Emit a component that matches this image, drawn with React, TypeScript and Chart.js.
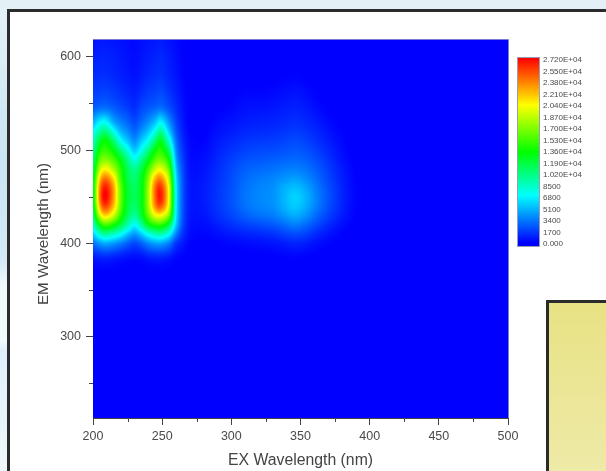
import React, { useEffect, useRef } from "react";
import { Chart, registerables } from "chart.js";

Chart.register(...registerables);

const xMajorTicks = [200, 250, 300, 350, 400, 450, 500];
const xMinorTicks = [225, 275, 325, 375, 425, 475];
const yMajorTicks = [300, 400, 500, 600];
const yMinorTicks = [250, 350, 450, 550];
const legendLabels = ["2.720E+04","2.550E+04","2.380E+04","2.210E+04","2.040E+04","1.870E+04","1.700E+04","1.530E+04","1.360E+04","1.190E+04","1.020E+04","8500","6800","5100","3400","1700","0.000"];
const yTitle = "EM Wavelength (nm)";

const emGrid = [213,340,370,385,400,410,420,430,440,450,460,470,480,490,500,510,520,530,545,560,580,600,619];
const exGrid = [200,205,209,215,220,225,230,235,240,245,249,255,260,265,270,280,290,300,310,320,330,338,346,354,362,370,380,390,400,500];

const ex200 = [150,250,450,1200,3500,6000,8800,11000,12500,13000,13000,12500,11800,11000,10200,9000,7300,5400,3000,2200,1600,1300,1000];
const ex205 = [150,250,480,1400,4500,8700,13500,19000,22500,24000,23500,21500,18500,16000,14000,12300,9600,7000,3400,2300,1700,1400,1100];
const ex209 = [150,250,500,1500,5000,9800,15500,21500,25500,27200,26500,24000,20400,17000,15000,13600,10500,7300,3500,2400,1700,1400,1100];
const ex215 = [150,250,480,1300,4500,8800,14000,19000,22000,23000,22800,21000,18000,15500,13200,10800,7700,5000,3000,2100,1500,1300,1000];
const ex220 = [140,240,430,1100,3800,7600,11800,14800,16200,16500,16300,15300,14500,13000,10500,7600,5400,3900,2500,1800,1300,1100,900];
const ex225 = [130,230,400,900,3000,5800,9400,11500,12300,12500,12400,12000,11500,10300,8000,5800,4300,3200,2100,1500,1100,950,800];
const ex230 = [120,220,380,800,2400,4600,7400,9800,11000,11500,11300,10800,10000,7900,5900,4400,3300,2500,1700,1300,950,800,700];
const ex235 = [130,230,400,900,3000,5900,9700,12300,13000,13000,13000,12800,11900,10000,7700,5900,4400,3300,2400,1700,1200,1000,850];
const ex240 = [140,240,430,1200,4100,7800,13000,16300,17800,18000,17900,17000,15200,12800,10300,7700,5800,4300,2800,2100,1500,1200,1000];
const ex245 = [150,250,470,1400,4700,9000,14500,19800,23500,24500,24300,22200,18800,15800,13500,10800,7900,5600,3200,2300,1700,1400,1100];
const ex249 = [150,250,490,1400,4800,9400,14800,20300,24900,26500,25800,23300,19700,16500,14500,12800,10000,7000,3500,2500,1800,1500,1200];
const ex255 = [130,230,430,1150,3800,7500,12000,16800,19400,20000,19700,18200,15900,13500,11000,8400,6000,4400,2600,1900,1400,1200,950];
const ex260 = [100,180,300,700,1900,4000,6000,7000,7300,7400,7300,6800,6000,5100,4300,3600,2900,2300,1700,1300,1000,850,700];
const ex265 = [80,140,240,500,1100,1800,2400,2700,2800,2800,2800,2700,2500,2200,1900,1600,1300,1100,900,750,600,500,450];
const ex270 = [60,110,170,300,550,800,950,1050,1100,1100,1100,1050,950,850,750,650,550,450,400,350,300,250,220];
const ex280 = [60,100,160,250,400,600,800,1000,1150,1200,1200,1100,1000,850,700,550,450,350,280,220,180,150,130];
const ex290 = [60,100,160,260,520,850,1250,1650,1850,1900,1850,1750,1650,1500,1300,1100,900,700,450,320,220,170,140];
const ex300 = [60,100,170,300,650,1150,1750,2300,2600,2650,2600,2500,2350,2100,1800,1500,1200,950,650,450,280,200,150];
const ex310 = [60,100,180,350,750,1350,2200,3000,3500,3600,3500,3300,3000,2600,2200,1850,1500,1200,900,650,350,230,170];
const ex320 = [60,100,190,400,850,1550,2500,3500,4000,4100,4000,3700,3300,2800,2400,2000,1600,1300,950,620,330,220,170];
const ex330 = [60,110,220,450,1000,1800,2850,3800,4300,4400,4300,4000,3500,3000,2500,2100,1700,1400,1050,700,400,250,180];
const ex338 = [60,110,240,520,1200,2200,3350,4500,5200,5300,5100,4400,3750,3150,2650,2250,1900,1550,1200,850,480,280,190];
const ex346 = [60,110,250,580,1400,2500,3850,5100,5900,6100,5600,4700,3900,3300,2850,2450,2050,1700,1350,1000,550,300,200];
const ex354 = [60,110,230,500,1200,2200,3300,4400,5100,5300,4900,4200,3600,3050,2600,2200,1850,1500,1150,800,450,250,170];
const ex362 = [60,100,190,380,850,1500,2400,3200,3800,3900,3700,3300,2900,2500,2100,1750,1450,1150,800,500,280,180,130];
const ex370 = [60,100,150,280,580,1000,1600,2200,2600,2700,2600,2350,2100,1800,1500,1250,1000,750,480,300,180,130,100];
const ex380 = [60,90,130,200,360,550,850,1200,1400,1450,1400,1300,1150,950,800,650,500,380,250,170,120,100,80];
const ex390 = [60,80,100,130,200,280,380,500,550,600,550,500,450,400,330,270,220,170,130,100,80,70,60];
const ex400 = [60,70,80,90,100,110,120,130,140,140,140,130,120,110,100,90,80,70,70,60,60,60,60];
const ex500 = [60,60,60,60,60,60,60,60,60,60,60,60,60,60,60,60,60,60,60,60,60,60,60];

const intensity = [ex200,ex205,ex209,ex215,ex220,ex225,ex230,ex235,ex240,ex245,ex249,ex255,ex260,ex265,ex270,ex280,ex290,ex300,ex310,ex320,ex330,ex338,ex346,ex354,ex362,ex370,ex380,ex390,ex400,ex500];

const colorStops: [number, number, number, number][] = [
  [0, 0, 0, 255], [500, 0, 0, 255], [7300, 0, 255, 255], [13600, 0, 255, 0],
  [20400, 255, 255, 0], [23800, 255, 128, 0], [27200, 255, 0, 0],
];

const colorOf = (v: number) => {
  for (let i = 1; i < colorStops.length; i++) {
    const a = colorStops[i - 1], b = colorStops[i];
    if (v <= b[0]) {
      const t = (v - a[0]) / (b[0] - a[0]);
      return [a[1] + (b[1] - a[1]) * t, a[2] + (b[2] - a[2]) * t, a[3] + (b[3] - a[3]) * t];
    }
  }
  return [255, 0, 0];
};

const locate = (grid: number[], v: number): [number, number] => {
  let i = 0;
  while (i < grid.length - 2 && v > grid[i + 1]) i++;
  return [i, Math.max(0, Math.min(1, (v - grid[i]) / (grid[i + 1] - grid[i])))];
};
const cubic = (t: number) => {
  const t2 = t * t, t3 = t2 * t;
  return [-0.5 * t3 + t2 - 0.5 * t, 1.5 * t3 - 2.5 * t2 + 1, -1.5 * t3 + 2 * t2 + 0.5 * t, 0.5 * t3 - 0.5 * t2];
};

const heatmapPlugin = {
  id: "heatmap",
  beforeDatasetsDraw(chart: any) {
    const { ctx, chartArea: a, scales } = chart;
    const w = Math.round(a.right - a.left), h = Math.round(a.bottom - a.top);
    const off = document.createElement("canvas");
    off.width = w; off.height = h;
    const octx = off.getContext("2d")!;
    const img = octx.createImageData(w, h);
    const nx = exGrid.length, ny = emGrid.length;
    const xw = Array.from({ length: w }, (_, px) => {
      const [i, t] = locate(exGrid, scales.x.getValueForPixel(a.left + px + 0.5));
      return { i, c: cubic(t) };
    });
    const yw = Array.from({ length: h }, (_, py) => {
      const [j, t] = locate(emGrid, scales.y.getValueForPixel(a.top + py + 0.5));
      return { j, c: cubic(t) };
    });
    for (let py = 0; py < h; py++) {
      const { j, c: cy } = yw[py];
      for (let px = 0; px < w; px++) {
        const { i, c: cx } = xw[px];
        let v = 0;
        for (let m = 0; m < 4; m++) {
          const col = intensity[Math.max(0, Math.min(nx - 1, i - 1 + m))];
          for (let n = 0; n < 4; n++) {
            v += cx[m] * cy[n] * col[Math.max(0, Math.min(ny - 1, j - 1 + n))];
          }
        }
        v = Math.max(0, Math.min(27200, v));
        const [r, g, b] = colorOf(v);
        const k = (py * w + px) * 4;
        img.data[k] = r; img.data[k + 1] = g; img.data[k + 2] = b; img.data[k + 3] = 255;
      }
    }
    octx.putImageData(img, 0, 0);
    ctx.drawImage(off, a.left, a.top, a.right - a.left, a.bottom - a.top);
  },
  afterDraw(chart: any) {
    const { ctx, chartArea: a, scales } = chart;
    ctx.save();
    // minor ticks
    ctx.strokeStyle = "#444";
    ctx.lineWidth = 1;
    ctx.beginPath();
    xMinorTicks.forEach((v) => {
      const x = Math.round(scales.x.getPixelForValue(v)) + 0.5;
      ctx.moveTo(x, a.bottom); ctx.lineTo(x, a.bottom + 4);
    });
    yMinorTicks.forEach((v) => {
      const y = Math.round(scales.y.getPixelForValue(v)) + 0.5;
      ctx.moveTo(a.left, y); ctx.lineTo(a.left - 4, y);
    });
    ctx.stroke();
    // top / right edge of the plot
    ctx.strokeStyle = "#7a7ad8";
    ctx.beginPath();
    ctx.moveTo(a.left, a.top + 0.5); ctx.lineTo(a.right + 0.5, a.top + 0.5); ctx.lineTo(a.right + 0.5, a.bottom);
    ctx.stroke();
    // y axis title
    ctx.save();
    ctx.translate(44, 234);
    ctx.rotate(-Math.PI / 2);
    ctx.fillStyle = "#444";
    ctx.font = '15.2px "Liberation Sans"';
    ctx.textAlign = "center";
    ctx.textBaseline = "middle";
    ctx.fillText(yTitle, 0, 0);
    ctx.restore();
    // colour bar
    const barL = 518, barR = 539, barT = 58, barB = 246;
    for (let y = barT; y < barB; y++) {
      const [r, g, b] = colorOf(27200 * (1 - (y + 0.5 - barT) / (barB - barT)));
      ctx.fillStyle = `rgb(${r | 0},${g | 0},${b | 0})`;
      ctx.fillRect(barL, y, barR - barL, 1);
    }
    ctx.strokeStyle = "#9a9ab8";
    ctx.strokeRect(barL - 0.5, barT - 0.5, barR - barL + 1, barB - barT + 1);
    ctx.fillStyle = "#4a4a4a";
    ctx.font = '8px "Liberation Sans"';
    ctx.textAlign = "left";
    ctx.textBaseline = "middle";
    legendLabels.forEach((t, i) => ctx.fillText(t, 543, 60 + i * 11.5));
    ctx.restore();
  },
};

export default function App() {
  const ref = useRef<HTMLCanvasElement>(null);
  useEffect(() => {
    const points: { x: number; y: number; v: number }[] = [];
    exGrid.forEach((x, i) => emGrid.forEach((y, j) => points.push({ x, y, v: intensity[i][j] })));
    const chart = new Chart(ref.current!, {
      type: "scatter",
      data: { datasets: [{ label: "Intensity", data: points, pointRadius: 0 }] },
      plugins: [heatmapPlugin],
      options: {
        responsive: false,
        animation: false,
        layout: { padding: { top: 39, right: 98, left: 0, bottom: 0 } },
        plugins: { legend: { display: false }, tooltip: { enabled: false } },
        scales: {
          x: {
            type: "linear",
            min: 200,
            max: 500,
            afterBuildTicks: (s: any) => { s.ticks = xMajorTicks.map((value) => ({ value })); },
            afterFit: (s: any) => { s.height = 53; },
            grid: { drawOnChartArea: false, tickLength: 7, tickColor: "#444" },
            border: { color: "#444", width: 1 },
            ticks: { color: "#4a4a4a", font: { family: "Liberation Sans", size: 12.5 }, maxRotation: 0, padding: 4, autoSkip: false },
            title: { display: true, text: "EX Wavelength (nm)", color: "#444", font: { family: "Liberation Sans", size: 15.8 }, padding: { top: 0, bottom: 1 } },
          },
          y: {
            min: 213,
            max: 619,
            afterBuildTicks: (s: any) => { s.ticks = yMajorTicks.map((value) => ({ value })); },
            afterFit: (s: any) => { s.width = 93; },
            grid: { drawOnChartArea: false, tickLength: 7, tickColor: "#444" },
            border: { color: "#444", width: 1 },
            ticks: { color: "#4a4a4a", font: { family: "Liberation Sans", size: 12.5 }, padding: 5, autoSkip: false },
          },
        },
      },
    });
    return () => chart.destroy();
  }, []);
  return (
    <div style={{ position: "fixed", left: 0, top: 0, width: 606, height: 471, overflow: "hidden",
      background: "linear-gradient(180deg,#e4f1f7 0,#dceef6 60px,#cfe7f4 110px,#c9e4f3 170px,#d4eaf6 260px,#f0f8fc 285px,#f2f9fd 340px,#e0f0fb 350px,#eef7fd 471px)" }}>
      <div style={{ position: "absolute", left: 7, top: 9, width: 620, height: 500, boxSizing: "border-box", background: "#fff", border: "3px solid #2b2b2b" }} />
      <div style={{ position: "absolute", left: 546, top: 300, width: 80, height: 190, boxSizing: "border-box", border: "3px solid #2b2b2b",
        background: "linear-gradient(180deg,#e8e284 0,#eeeaa8 171px)" }} />
      <canvas ref={ref} width={606} height={471} style={{ position: "absolute", left: 0, top: 0, display: "block", filter: "blur(0.6px)" }} />
    </div>
  );
}
